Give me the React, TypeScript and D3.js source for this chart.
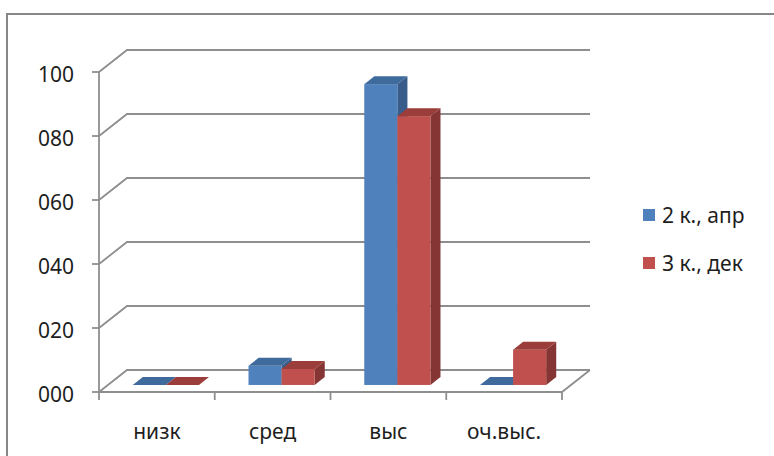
import * as d3 from 'd3';
import { useEffect } from 'react';

const categories = ['низк', 'сред', 'выс', 'оч.выс.'];
const seriesNames = ['2 к., апр', '3 к., дек'];
const seriesApr = [0, 6, 94, 0];
const seriesDec = [0, 5, 84, 11];
const yTicks = [0, 20, 40, 60, 80, 100];
const yTickLabels = ['000', '020', '040', '060', '080', '100'];

const colors = [
  { front: '#4F81BD', top: '#3F6A9C', side: '#385D8A' },
  { front: '#C0504D', top: '#9B3E3B', side: '#853533' },
];

const W = 774;
const H = 456;
const font = '"Noto Sans", "DejaVu Sans", sans-serif';
const fontSize = 21;

// 3D depth of the plot box
const DX = 28;
const DY = -22;
// bars sit in the middle of the depth
const barDepth = 0.36;
const barFront = (1 - barDepth) / 2;

export default function App() {
  useEffect(() => {
    document.body.style.margin = '0';
  }, []);

  const left = 99;
  const right = 562;
  const bottom = 392;
  const top = 72;

  const x = d3.scaleBand<string>().domain(categories).range([left, right]);
  const inner = d3
    .scaleBand<number>()
    .domain([0, 1])
    .range([0, x.bandwidth()])
    .paddingInner(0)
    .paddingOuter(0.75);
  const y = d3.scaleLinear().domain([0, 100]).range([bottom, top]);

  const values = [seriesApr, seriesDec];
  const fx = barFront * DX;
  const fy = barFront * DY;
  const dd = barDepth * DX;
  const dz = barDepth * DY;
  const bw = inner.bandwidth();

  const bars: JSX.Element[] = [];
  categories.forEach((c, ci) => {
    values.forEach((vals, si) => {
      const x0 = (x(c) as number) + (inner(si) as number) + fx;
      const base = y(0) + fy;
      const t = y(vals[ci]) + fy;
      const col = colors[si];
      const topPts = [
        [x0, t],
        [x0 + bw, t],
        [x0 + bw + dd, t + dz],
        [x0 + dd, t + dz],
      ];
      const sidePts = [
        [x0 + bw, t],
        [x0 + bw + dd, t + dz],
        [x0 + bw + dd, base + dz],
        [x0 + bw, base],
      ];
      bars.push(
        <g key={`${c}-${si}`}>
          {vals[ci] > 0 && (
            <polygon points={sidePts.map((p) => p.join(',')).join(' ')} fill={col.side} />
          )}
          {vals[ci] > 0 && (
            <rect x={x0} y={t} width={bw} height={base - t} fill={col.front} />
          )}
          <polygon points={topPts.map((p) => p.join(',')).join(' ')} fill={col.top} />
        </g>
      );
    });
  });

  const grid = '#8E8E8E';

  return (
    <svg width={W} height={H} style={{ position: 'absolute', left: 0, top: 0, background: '#fff' }}>
      <rect x={7} y={14} width={W + 20} height={H + 20} fill="none" stroke="#878787" strokeWidth={2} />

      {/* gridlines on side and back walls */}
      {yTicks.map((t, i) => (
        <g key={t}>
          <polyline
            points={`${left},${y(t)} ${left + DX},${y(t) + DY} ${right + DX},${y(t) + DY}`}
            fill="none"
            stroke={grid}
            strokeWidth={1.8}
          />
          <line x1={left - 7} x2={left} y1={y(t)} y2={y(t)} stroke={grid} strokeWidth={1.8} />
          <text
            x={74}
            y={y(t) + 2}
            dy="0.36em"
            textAnchor="end"
            fontFamily={font}
            fontSize={fontSize}
            fill="#1e1e1e"
          >
            {yTickLabels[i]}
          </text>
        </g>
      ))}

      {/* floor outline */}
      <polyline
        points={`${left},${bottom} ${right},${bottom} ${right + DX},${bottom + DY}`}
        fill="none"
        stroke={grid}
        strokeWidth={1.8}
      />
      <line x1={left} x2={left} y1={top} y2={bottom} stroke={grid} strokeWidth={1.8} />

      {/* category ticks */}
      {[...categories.map((c) => x(c) as number), right].map((px, i) => (
        <line key={i} x1={px} x2={px} y1={bottom} y2={bottom + 8} stroke={grid} strokeWidth={1.8} />
      ))}

      {bars}

      {categories.map((c) => (
        <text
          key={c}
          x={(x(c) as number) + x.bandwidth() / 2}
          y={431}
          dy="0.36em"
          textAnchor="middle"
          fontFamily={font}
          fontSize={fontSize}
          fill="#1e1e1e"
        >
          {c}
        </text>
      ))}

      {/* legend */}
      {seriesNames.map((s, i) => (
        <g key={s} transform={`translate(643,${209 + i * 48})`}>
          <rect width={12} height={12} fill={colors[i].front} />
          <text x={19} y={6} dy="0.36em" fontFamily={font} fontSize={fontSize} fill="#1e1e1e">
            {s}
          </text>
        </g>
      ))}
    </svg>
  );
}
